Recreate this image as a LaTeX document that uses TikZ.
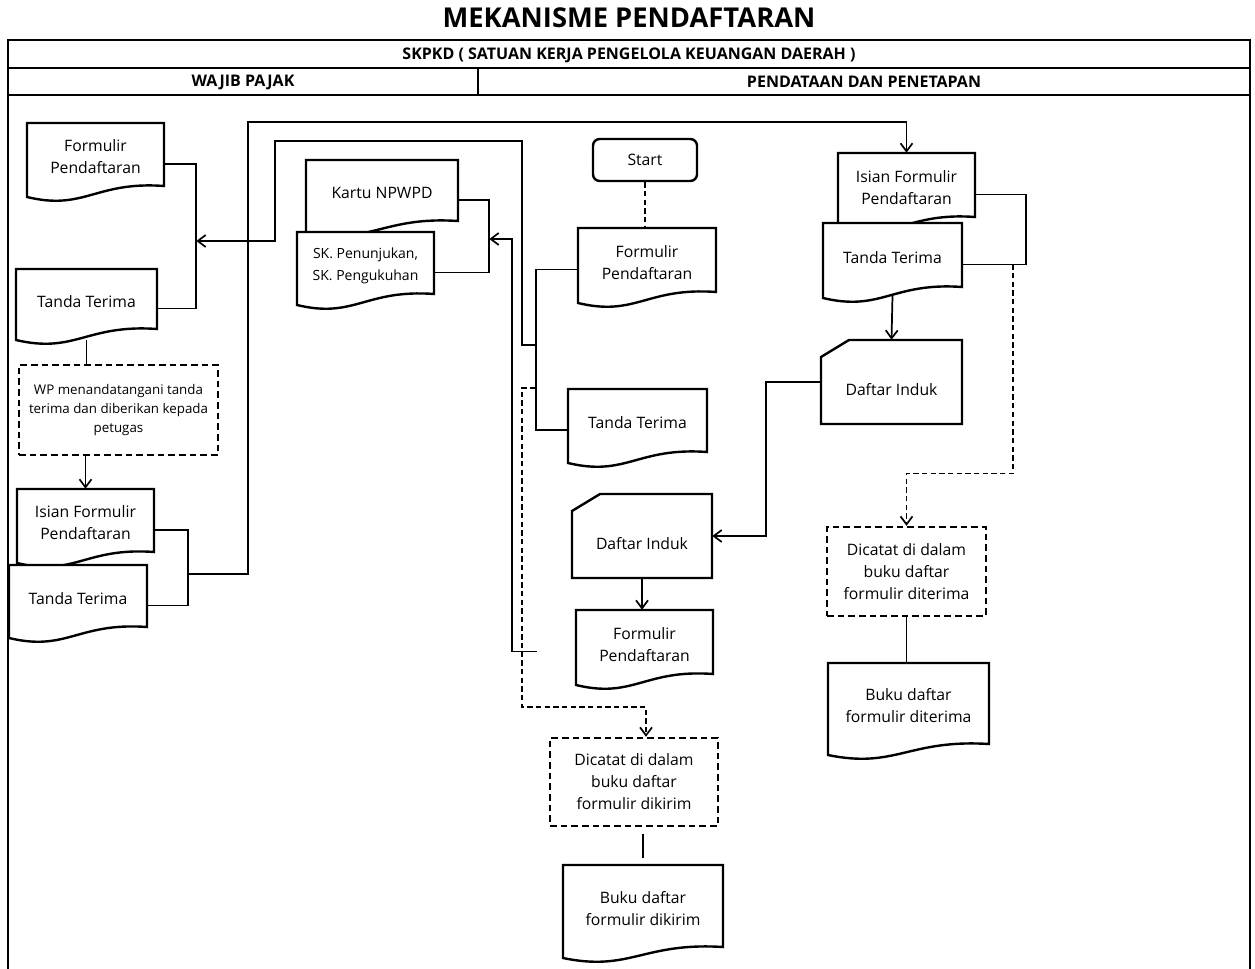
\documentclass[tikz,border=0pt]{standalone}
\usepackage{fontspec}
\setmainfont{Open Sans}
\usetikzlibrary{arrows.meta,fit}

% document symbol with wavy bottom: [text style] name, left, top, right, bottom, text
\newcommand{\docsym}[7][]{%
  \filldraw[symline] (#3,#4) -- (#5,#4) -- (#5,#6-11)
    .. controls ({#3+0.5*(#5-#3)},#6-16) and ({#3+0.42*(#5-#3)},#6+14) .. (#3,#6) -- cycle;
  \node[fit={(#3,#4) (#5,#6+8)},inner sep=0pt] (#2) {};
  \node[lbl,#1] (#2-t) at ({(#3+#5)/2},{(#4+#6)/2-3}) {#7};
}
% card symbol with cut corner: name, left, top, right, bottom, text
\newcommand{\cardsym}[6]{%
  \filldraw[symline] ({#2+28},#3) -- (#4,#3) -- (#4,#5) -- (#2,#5) -- (#2,{#3+17}) -- cycle;
  \node[fit={(#2,#3) (#4,#5)},inner sep=0pt] (#1) {};
  \node[lbl] (#1-t) at ({(#2+#4)/2},{(#3+#5)/2+8}) {#6};
}

\begin{document}
\begin{tikzpicture}[x=0.75pt,y=-0.75pt,
    symline/.style={line width=1.8pt,fill=white,draw=black},
    link/.style={line width=1.3pt},
    dlink/.style={line width=1.3pt,dash pattern=on 4pt off 2.5pt},
    dbox/.style={draw,line width=1.8pt,dash pattern=on 5pt off 3pt,inner sep=0pt,align=center},
    lbl/.style={align=center,font=\fontsize{11.8}{16.5}\selectfont},
    small/.style={font=\fontsize{10.5}{16.5}\selectfont},
    hdr/.style={font=\bfseries\fontsize{12}{14}\selectfont},
    frame/.style={line width=2.1pt},
    >={Straight Barb[length=6pt,width=9pt]}]
\useasboundingbox (0,0) rectangle (1255,969);

\draw[frame] (8,969) -- (8,40) -- (1250,40) -- (1250,969);
\draw[frame] (8,68) -- (1250,68);
\draw[frame] (8,95) -- (1250,95);
\draw[frame] (478,68) -- (478,95);
\node[font=\bfseries\fontsize{20.5}{24}\selectfont] (title) at (629,18) {MEKANISME PENDAFTARAN};
\node[hdr] (skpkd) at (629,55) {SKPKD ( SATUAN KERJA PENGELOLA KEUANGAN DAERAH )};
\node[hdr] (wajib) at (243,82) {WAJIB PAJAK};
\node[hdr] (pendataan) at (864,82) {PENDATAAN DAN PENETAPAN};

% wajib pajak
\docsym{fpA}{27}{123}{164}{197}{Formulir\\Pendaftaran}
\docsym{ttA}{16}{269}{157}{340}{Tanda Terima}
\node[dbox,minimum width=149.25pt,minimum height=67.5pt,font=\fontsize{10}{14}\selectfont] (wp) at (118.5,410) {WP menandatangani tanda\\terima dan diberikan kepada\\petugas};
\docsym{ifA}{17}{489}{154}{563}{Isian Formulir\\Pendaftaran}
\docsym{ttB}{9}{565}{147}{638}{Tanda Terima}

% pendataan dan penetapan
\docsym{kartu}{306}{160}{458}{232}{Kartu NPWPD}
\docsym[small]{sk}{297}{232}{434}{305}{SK. Penunjukan,\\SK. Pengukuhan}
\node[draw,line width=1.8pt,rounded corners=5pt,inner sep=0pt,lbl,minimum width=78pt,minimum height=31.5pt] (start) at (645,160) {Start};
\docsym{fpB}{578}{228}{716}{303}{Formulir\\Pendaftaran}
\docsym{ttC}{568}{389}{707}{463}{Tanda Terima}
\cardsym{diB}{572}{494}{712}{578}{Daftar Induk}
\docsym{fpC}{576}{610}{713}{685}{Formulir\\Pendaftaran}
\node[dbox,lbl,minimum width=126pt,minimum height=66pt] (dcK) at (634,782) {Dicatat di dalam\\buku daftar\\formulir dikirim};
\docsym{bdK}{563}{865}{723}{958}{Buku daftar\\formulir dikirim}
\docsym{ifR}{838}{153}{975}{228}{Isian Formulir\\Pendaftaran}
\docsym{ttR}{823}{223}{962}{298}{Tanda Terima}
\cardsym{diR}{821}{340}{962}{424}{Daftar Induk}
\node[dbox,lbl,minimum width=119.25pt,minimum height=66.75pt] (dcT) at (906.5,571.5) {Dicatat di dalam\\buku daftar\\formulir diterima};
\docsym{bdT}{828}{663}{989}{755}{Buku daftar\\formulir diterima}

% connectors
\draw[link] (fpA.east) -- ++(32,0) coordinate (jA) |- (ttA.east);
\draw[link] ([yshift=6pt]ttA.south) -- (ttA.south |- wp.north);
\draw[link,->] (wp.south -| ifA.north) -- (ifA.north);
\draw[link] (ifA.east) -- ++(34,0) coordinate (jC) |- (ttB.east);
\draw[link,->] (jC |- 0,574) -| (248,122) -| (ifR.north);
\draw[link] (kartu.east) -- ++(31,0) coordinate (jK) |- (sk.east);
\draw[dlink] (start.south) -- (start.south |- fpB.north);
\draw[link] (fpB.west) -- ++(-42,0) coordinate (jB) |- (ttC.west);
\draw[link,->] (jB |- 0,345) -| (522,141) -| (275,241) -- (jA |- 0,241);
\draw[dlink,->] (jB |- 0,388) -| (522,707) -| ([xshift=9pt]dcK.north);
\draw[link,->] ([xshift=-29pt]fpC.west) -| (512,239) -- (jK |- 0,239);
\draw[link] (ifR.east) -- ++(51,0) coordinate (jR) |- (ttR.east);
\draw[link,->] ([yshift=8pt]ttR.south) -- (diR.north);
\draw[dlink,->] ([xshift=38pt]ttR.east) -- ++(0,209) -| (dcT.north);
\draw[link,->] (diR.west) -- ++(-55,0) |- (diB.east);
\draw[link,->] (diB.south) -- (diB.south |- fpC.north);
\draw[link] ([yshift=5pt]bdK.north) -- ++(0,-24);
\draw[link] (dcT.south) -- (dcT.south |- bdT.north);
\end{tikzpicture}
\end{document}
